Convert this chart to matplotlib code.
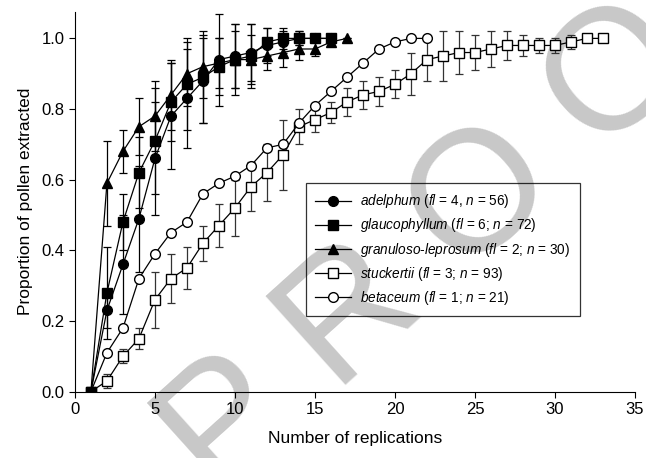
import numpy as np
import matplotlib
matplotlib.use('Agg')
import matplotlib.pyplot as plt

plt.rcParams['font.family'] = ['Liberation Sans', 'DejaVu Sans']
plt.rcParams['mathtext.fontset'] = 'custom'
plt.rcParams['mathtext.rm'] = 'Liberation Sans'
plt.rcParams['mathtext.it'] = 'Liberation Sans:italic'

# proportion of pollen extracted per replication
adelphum = [0, 0.23, 0.36, 0.49, 0.66, 0.78, 0.83, 0.88, 0.94, 0.95, 0.96, 0.98, 0.99, 1.0, 1.0, 1.0]
adelphum_se = [0, 0.05, 0.14, 0.15, 0.16, 0.15, 0.14, 0.12, 0.13, 0.09, 0.08, 0.05, 0.03, 0.02, 0, 0]

glauco = [0, 0.28, 0.48, 0.62, 0.71, 0.82, 0.87, 0.89, 0.92, 0.94, 0.95, 0.99, 1.0, 1.0, 1.0, 1.0]
glauco_se = [0, 0.13, 0.08, 0.10, 0.15, 0.11, 0.13, 0.13, 0.08, 0.10, 0.09, 0.04, 0.03, 0.02, 0, 0]

granuloso = [0, 0.59, 0.68, 0.75, 0.78, 0.84, 0.90, 0.92, 0.93, 0.94, 0.94, 0.95, 0.96, 0.97, 0.97, 0.99, 1.0]
granuloso_se = [0, 0.12, 0.06, 0.08, 0.10, 0.10, 0.09, 0.09, 0.07, 0.08, 0.07, 0.04, 0.04, 0.03, 0.02, 0.01, 0]

stuckertii = [0, 0.03, 0.10, 0.15, 0.26, 0.32, 0.35, 0.42, 0.47, 0.52, 0.58, 0.62, 0.67, 0.75, 0.77,
              0.79, 0.82, 0.84, 0.85, 0.87, 0.90, 0.94, 0.95, 0.96, 0.96, 0.97, 0.98, 0.98, 0.98,
              0.98, 0.99, 1.0, 1.0]
stuckertii_se = [0, 0.02, 0.02, 0.03, 0.08, 0.07, 0.06, 0.05, 0.06, 0.08, 0.07, 0.08, 0.10, 0.05,
                 0.035, 0.03, 0.04, 0.04, 0.04, 0.04, 0.06, 0.06, 0.07, 0.06, 0.05, 0.05, 0.04,
                 0.03, 0.02, 0.02, 0.02, 0, 0]

betaceum = [0, 0.11, 0.18, 0.32, 0.39, 0.45, 0.48, 0.56, 0.59, 0.61, 0.64, 0.69, 0.70, 0.76, 0.81,
            0.85, 0.89, 0.93, 0.97, 0.99, 1.0, 1.0]

labels = [r'$\it{adelphum}$ ($\it{fl}$ = 4, $\it{n}$ = 56)',
          r'$\it{glaucophyllum}$ ($\it{fl}$ = 6; $\it{n}$ = 72)',
          r'$\it{granuloso}$-$\it{leprosum}$ ($\it{fl}$ = 2; $\it{n}$ = 30)',
          r'$\it{stuckertii}$ ($\it{fl}$ = 3; $\it{n}$ = 93)',
          r'$\it{betaceum}$ ($\it{fl}$ = 1; $\it{n}$ = 21)']

fig = plt.figure(figsize=(6.46, 4.58), dpi=100)
ax = fig.add_axes([0.116, 0.145, 0.867, 0.829])
ax.patch.set_alpha(0)

# watermark behind everything
fig.text(0.75, 0.565, 'P R O O F', fontsize=124, color='#c8c8c8', rotation=42,
         ha='center', va='center', zorder=-5)

kw = dict(color='k', mec='k', ms=7, lw=0.9, elinewidth=0.9, capsize=3, capthick=0.9)

def xs(vals):
    return np.arange(1, len(vals) + 1)

h_bet = ax.plot(xs(betaceum), betaceum, '-o', mfc='white', zorder=3, **{k: kw[k] for k in ('color', 'mec', 'ms', 'lw')})[0]
c_stu = ax.errorbar(xs(stuckertii), stuckertii, yerr=stuckertii_se, marker='s', mfc='white', ecolor='#333333', zorder=2, **kw)
c_gra = ax.errorbar(xs(granuloso), granuloso, yerr=granuloso_se, marker='^', mfc='k', zorder=4, **kw)
c_gla = ax.errorbar(xs(glauco), glauco, yerr=glauco_se, marker='s', mfc='k', zorder=4, **kw)
c_ade = ax.errorbar(xs(adelphum), adelphum, yerr=adelphum_se, marker='o', mfc='k', zorder=4, **kw)

handles = [c_ade[0], c_gla[0], c_gra[0], c_stu[0], h_bet]
leg = ax.legend(handles, labels, loc='upper left', bbox_to_anchor=(0.4125, 0.55),
                borderaxespad=0, fontsize=9.8, frameon=True, fancybox=False,
                edgecolor='k', facecolor='none', handlelength=2.6, handletextpad=0.7,
                labelspacing=0.45, borderpad=0.7)
leg.get_frame().set_linewidth(0.9)

ax.set_xlim(0, 35)
ax.set_ylim(0, 1.075)
ax.set_xticks(np.arange(0, 36, 5))
ax.set_yticks(np.arange(0, 1.01, 0.2))
ax.set_yticklabels(['%.1f' % v for v in np.arange(0, 1.01, 0.2)])
ax.spines['top'].set_visible(False)
ax.spines['right'].set_visible(False)
ax.tick_params(labelsize=12, length=4, width=0.8, direction='out')
ax.set_xlabel('Number of replications', fontsize=12.5, labelpad=10)
ax.set_ylabel('Proportion of pollen extracted', fontsize=12.5, labelpad=6)

fig.savefig('out.png', dpi=100)
